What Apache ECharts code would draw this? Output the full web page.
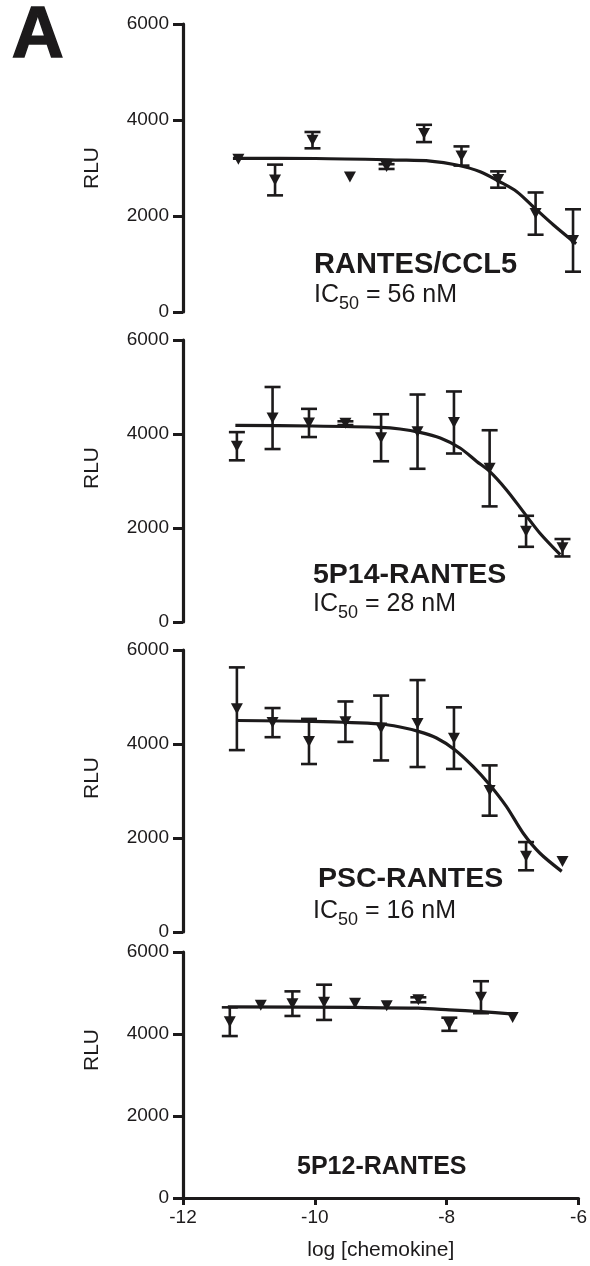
<!DOCTYPE html>
<html><head><meta charset="utf-8">
<script src="https://cdn.jsdelivr.net/npm/echarts@6/dist/echarts.min.js"></script>
<style>html,body{margin:0;padding:0;background:#fff}#c{width:590px;height:1266px}</style>
</head><body><div id="c"></div>
<script>
// log10 molar concentrations (3-fold dilution series)
const conc = [-11.29, -10.82, -10.34, -9.86, -9.39, -8.91, -8.43, -7.96, -7.48, -7.00];
const yTicks = [0, 2000, 4000, 6000];
const xTicks = [-12, -10, -8, -6];
const panelNames = ['RANTES/CCL5', '5P14-RANTES', 'PSC-RANTES', '5P12-RANTES'];
const ic50Values = ['56 nM', '28 nM', '16 nM', null];

// RANTES/CCL5
const ccl5Mean = [3180, 2750, 3580, 2810, 3030, 3720, 3250, 2760, 2050, 1490];
const ccl5Err  = [0, 320, 170, 0, 50, 180, 200, 170, 440, 650];
const ccl5FitX = [-11.36, -10.30, -9.22, -8.83, -8.49, -8.19, -7.94, -7.72, -7.51, -7.25, -6.96];
const ccl5FitY = [3201, 3198, 3166, 3145, 3062, 2922, 2714, 2506, 2193, 1812, 1420];

// 5P14-RANTES
const p14Mean = [3740, 4340, 4235, 4230, 3920, 4050, 4245, 3270, 1930, 1580];
const p14Err  = [300, 660, 300, 40, 500, 790, 660, 810, 330, 185];
const p14FitX = [-11.31, -10.30, -9.40, -9.14, -8.88, -8.61, -8.35, -8.13, -7.96, -7.74, -7.52, -7.30, -7.03];
const p14FitY = [4184, 4170, 4141, 4107, 4035, 3915, 3702, 3417, 3204, 2815, 2354, 1894, 1432];

// PSC-RANTES
const pscMean = [4750, 4455, 4054, 4475, 4340, 4435, 4125, 3010, 1613, 1502];
const pscErr  = [880, 310, 480, 430, 690, 925, 655, 535, 300, 0];
const pscFitX = [-11.29, -10.30, -9.40, -9.14, -8.90, -8.66, -8.42, -8.18, -7.96, -7.74, -7.52, -7.30, -7.01];
const pscFitY = [4500, 4480, 4426, 4362, 4269, 4128, 3879, 3524, 3134, 2673, 2107, 1681, 1290];

// 5P12-RANTES
const p12Mean = [4300, 4700, 4740, 4773, 4753, 4688, 4835, 4238, 4897, 4402];
const p12Err  = [350, 0, 300, 430, 0, 0, 60, 160, 390, 0];
const p12FitX = [-11.32, -9.39, -8.43, -7.96, -7.48, -6.98];
const p12FitY = [4663, 4647, 4630, 4590, 4545, 4485];

const INK = '#1c1a1b';
const FONT = '"Liberation Sans", Arial, Helvetica, sans-serif';

const panels = [
  {mean: ccl5Mean, err: ccl5Err, fx: ccl5FitX, fy: ccl5FitY},
  {mean: p14Mean, err: p14Err, fx: p14FitX, fy: p14FitY},
  {mean: pscMean, err: pscErr, fx: pscFitX, fy: pscFitY},
  {mean: p12Mean, err: p12Err, fx: p12FitX, fy: p12FitY}
];

const grids = [
  {left: 183, top: 24, width: 399, height: 288},
  {left: 183, top: 340, width: 399, height: 282},
  {left: 183, top: 650, width: 399, height: 282},
  {left: 183, top: 952, width: 399, height: 246}
];
const xMax = [-6.885, -6.743, -6.743, -6];
const rluPad = [0, 26, 26, 50];

const xAxes = grids.map((g, i) => {
  const isBottom = i === 3;
  return {
    gridIndex: i, type: 'value', min: xTicks[0], max: xMax[i], interval: 2,
    show: isBottom,
    name: isBottom ? 'log [chemokine]' : '',
    nameLocation: 'middle', nameGap: 42,
    nameTextStyle: {fontFamily: FONT, fontSize: 21, color: INK},
    axisLine: {show: true, lineStyle: {color: INK, width: 3}},
    axisTick: {show: true, length: 7, lineStyle: {color: INK, width: 3}},
    axisLabel: {show: true, margin: 10, fontFamily: FONT, fontSize: 19, color: INK,
      formatter: v => xTicks.includes(v) ? String(v) : ''},
    splitLine: {show: false}
  };
});

const yAxes = grids.map((g, i) => ({
  gridIndex: i, type: 'value', min: yTicks[0], max: yTicks[yTicks.length - 1], interval: 2000,
  name: 'RLU', nameLocation: 'middle', nameRotate: 90, nameGap: 80,
  nameTextStyle: {fontFamily: FONT, fontSize: 21, color: INK, padding: [0, 0, 0, rluPad[i]]},
  axisLine: {show: true, lineStyle: {color: INK, width: 3.2}},
  axisTick: {show: true, length: 10, lineStyle: {color: INK, width: 3}},
  axisLabel: {margin: 14, fontFamily: FONT, fontSize: 19, color: INK,
    formatter: v => yTicks.includes(v) ? String(v) : ''},
  splitLine: {show: false}
}));

const series = [];
panels.forEach((p, i) => {
  series.push({
    type: 'line', xAxisIndex: i, yAxisIndex: i,
    data: p.fx.map((x, k) => [x, p.fy[k]]),
    smooth: 0.3, showSymbol: false, silent: true,
    lineStyle: {color: INK, width: 3.2}, z: 2
  });
  const ebData = [];
  p.mean.forEach((m, k) => { if (p.err[k] > 0) ebData.push([conc[k], m - p.err[k], m + p.err[k]]); });
  series.push({
    type: 'custom', xAxisIndex: i, yAxisIndex: i, data: ebData, silent: true, z: 3,
    renderItem: (params, api) => {
      const x = api.value(0);
      const top = api.coord([x, api.value(2)]);
      const bot = api.coord([x, api.value(1)]);
      const w = 8;
      const st = {stroke: INK, lineWidth: 2.6};
      return {type: 'group', children: [
        {type: 'line', shape: {x1: top[0], y1: top[1], x2: bot[0], y2: bot[1]}, style: st},
        {type: 'line', shape: {x1: top[0] - w, y1: top[1], x2: top[0] + w, y2: top[1]}, style: st},
        {type: 'line', shape: {x1: bot[0] - w, y1: bot[1], x2: bot[0] + w, y2: bot[1]}, style: st}
      ]};
    }
  });
  series.push({
    type: 'scatter', xAxisIndex: i, yAxisIndex: i,
    data: p.mean.map((m, k) => [conc[k], m]),
    symbol: 'triangle', symbolRotate: 180, symbolSize: [12, 11],
    itemStyle: {color: INK, opacity: 1}, z: 4, silent: true
  });
});

const labelPos = [
  {nx: 314, ny: 265, ix: 314, iy: 298, fs: 29},
  {nx: 313, ny: 575, ix: 313, iy: 607, fs: 28.5},
  {nx: 318, ny: 879, ix: 313, iy: 914, fs: 28.5},
  {nx: 297, ny: 1167, ix: 0, iy: 0, fs: 25}
];
const graphic = [
  {type: 'text', left: 11, top: 0, style: {text: 'A', fontFamily: FONT, fontWeight: 'bold', fontSize: 72, fill: INK, stroke: INK, lineWidth: 1.5}}
];
panelNames.forEach((n, i) => {
  const L = labelPos[i];
  graphic.push({type: 'text', x: L.nx, y: L.ny,
    style: {text: n, fontFamily: FONT, fontWeight: 'bold', fontSize: L.fs, fill: INK, verticalAlign: 'middle', align: 'left'}});
  if (ic50Values[i]) {
    graphic.push({type: 'text', x: L.ix, y: L.iy,
      style: {text: '{a|IC}{b|50}{a| = ' + ic50Values[i] + '}', verticalAlign: 'middle', align: 'left',
        rich: {
          a: {fontFamily: FONT, fontSize: 25, fill: INK, color: INK, lineHeight: 30, verticalAlign: 'top'},
          b: {fontFamily: FONT, fontSize: 18, fill: INK, color: INK, lineHeight: 18, verticalAlign: 'bottom'}
        }}});
  }
});

const chart = echarts.init(document.getElementById('c'), null, {renderer: 'canvas'});
chart.setOption({
  backgroundColor: '#fff', animation: false,
  grid: grids, xAxis: xAxes, yAxis: yAxes, series: series, graphic: graphic
});
</script></body></html>
